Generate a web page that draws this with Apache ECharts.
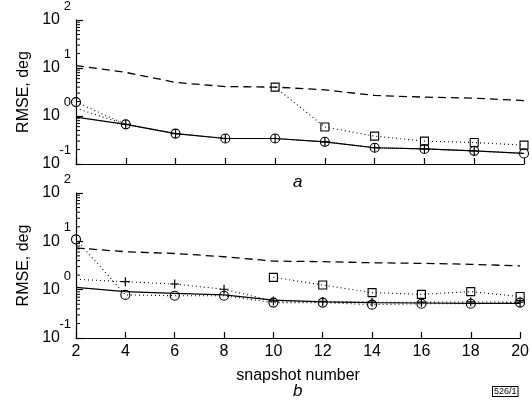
<!DOCTYPE html>
<html>
<head>
<meta charset="utf-8">
<script src="https://cdn.jsdelivr.net/npm/echarts@6/dist/echarts.min.js"></script>
<style>html,body{margin:0;padding:0;background:#fff}#c{width:532px;height:402px}</style>
</head>
<body>
<div id="c"></div>
<script>
var xs = [2, 4, 6, 8, 10, 12, 14, 16, 18, 20];
var yTicks = [0.1, 1, 10, 100];

// panel a
var aDashed = [11.2, 8.1, 5.0, 4.1, 4.0, 3.5, 2.68, 2.47, 2.35, 2.1];
var aSolid  = [0.95, 0.67, 0.43, 0.34, 0.34, 0.29, 0.218, 0.206, 0.188, 0.166];
var aCircle = [1.95, 0.67, 0.43, 0.34, 0.34, 0.29, 0.218, 0.206, 0.188, 0.166];
var aPlus   = [1.45, 0.67, 0.43, 0.34, 0.34, 0.29, 0.218, 0.206, 0.188, null];
var aSquare = [null, null, null, null, 4.0, 0.59, 0.38, 0.30, 0.28, 0.247];

// panel b
var bDashed = [7.3, 6.1, 5.6, 4.8, 3.9, 3.8, 3.6, 3.5, 3.35, 3.1];
var bSolid  = [1.12, 0.91, 0.84, 0.78, 0.61, 0.56, 0.54, 0.53, 0.52, 0.52];
var bCircle = [11, 0.78, 0.75, 0.75, 0.54, 0.54, 0.49, 0.51, 0.51, 0.54];
var bPlus   = [1.64, 1.46, 1.31, 1.02, 0.58, 0.57, 0.55, 0.55, 0.56, 0.55];
var bSquare = [null, null, null, null, 1.8, 1.25, 0.87, 0.80, 0.91, 0.72];

var FONT = 'Liberation Sans, Arial, Helvetica, sans-serif';
var plusPath = 'path://M5,0L5,10M0,5L10,5';

// minor tick values of the log axis (2..9 in each decade)
var minorVals = [];
for (var d = 0; d < yTicks.length - 1; d++) {
  for (var m = 2; m <= 9; m++) minorVals.push(+(yTicks[d] * m).toPrecision(3));
}

function pairs(vals, hideFirst) {
  var out = [];
  for (var i = 0; i < xs.length; i++) {
    if (vals[i] == null) continue;
    if (hideFirst && i === 0) out.push({ value: [xs[i], vals[i]], symbol: 'none' });
    else out.push([xs[i], vals[i]]);
  }
  return out;
}

function mk(vals, idx, kind) {
  var s = {
    type: 'line', xAxisIndex: idx, yAxisIndex: idx, data: pairs(vals, kind === 'plus'),
    animation: false, silent: true, smooth: false, z: 3,
    lineStyle: { color: '#000', width: 1.2, type: 'solid' },
    symbol: 'none', showSymbol: false,
    itemStyle: { color: 'rgba(0,0,0,0)', borderColor: '#000', borderWidth: 1.1 }
  };
  if (kind === 'dashed') { s.lineStyle.type = [8, 5]; s.lineStyle.width = 1.3; }
  if (kind === 'circle' || kind === 'plus' || kind === 'square') {
    s.lineStyle.type = [1, 3]; s.lineStyle.width = 1.1;
    s.showSymbol = true;
  }
  if (kind === 'circle') { s.symbol = 'circle'; s.symbolSize = 9; }
  if (kind === 'square') { s.symbol = 'rect'; s.symbolSize = 8; }
  if (kind === 'plus') { s.symbol = plusPath; s.symbolSize = 9; s.itemStyle.borderWidth = 1.2; }
  return s;
}

function minorSeries(idx) {
  return {
    type: 'custom', xAxisIndex: idx, yAxisIndex: idx, silent: true, animation: false, z: 4,
    clip: false,
    encode: { x: 0, y: 1 },
    data: minorVals.map(function (v) { return [xs[0], v]; }),
    renderItem: function (params, api) {
      var p = api.coord([api.value(0), api.value(1)]);
      return { type: 'line', shape: { x1: p[0], y1: p[1], x2: p[0] + 4, y2: p[1] },
               style: { stroke: '#000', lineWidth: 1 } };
    }
  };
}

function yAxisMain(idx) {
  return {
    type: 'log', logBase: 10, gridIndex: idx, min: yTicks[0], max: yTicks[yTicks.length - 1],
    name: 'RMSE, deg', nameLocation: 'middle', nameGap: 37, nameRotate: 90,
    nameTextStyle: { fontFamily: FONT, fontSize: 16, color: '#000' },
    axisLine: { show: true, lineStyle: { color: '#000', width: 1.2 } },
    axisTick: { show: true, inside: true, length: 7, lineStyle: { color: '#000', width: 1.2 } },
    splitLine: { show: false },
    axisLabel: {
      margin: 16, fontFamily: FONT, fontSize: 16, color: '#000',
      formatter: function () { return '10'; }
    }
  };
}

function yAxisExp(idx) {
  return {
    type: 'log', logBase: 10, gridIndex: idx, min: yTicks[0], max: yTicks[yTicks.length - 1],
    position: 'left', offset: 0,
    axisLine: { show: false }, axisTick: { show: false }, splitLine: { show: false },
    axisLabel: {
      margin: 5, fontFamily: FONT, fontSize: 13, color: '#000',
      verticalAlign: 'bottom', padding: [0, 0, 7, 0],
      formatter: function (v) { return String(Math.round(Math.log10(v))); }
    }
  };
}

function xAxis(idx, showLabels) {
  var ax = {
    type: 'value', gridIndex: idx, min: 2, max: 20, interval: 2,
    axisLine: { show: true, onZero: false, lineStyle: { color: '#000', width: 1.2 } },
    axisTick: { show: true, inside: true, length: 6, lineStyle: { color: '#000', width: 1.2 } },
    splitLine: { show: false },
    axisLabel: { show: showLabels, margin: 6, fontFamily: FONT, fontSize: 16, color: '#000' }
  };
  if (showLabels) {
    ax.name = 'snapshot number';
    ax.nameLocation = 'middle';
    ax.nameGap = 30;
    ax.nameTextStyle = { fontFamily: FONT, fontSize: 16, color: '#000' };
  }
  return ax;
}

var chart = echarts.init(document.getElementById('c'), null, { renderer: 'canvas' });
chart.setOption({
  backgroundColor: '#fff',
  animation: false,
  grid: [
    { left: 76, right: 8, top: 19, height: 145 },
    { left: 76, right: 8, top: 193, height: 145 }
  ],
  xAxis: [xAxis(0, false), xAxis(1, true)],
  yAxis: [yAxisMain(0), yAxisMain(1), yAxisExp(0), yAxisExp(1)],
  series: [
    mk(aDashed, 0, 'dashed'), mk(aSolid, 0, 'solid'), mk(aCircle, 0, 'circle'),
    mk(aPlus, 0, 'plus'), mk(aSquare, 0, 'square'),
    mk(bDashed, 1, 'dashed'), mk(bSolid, 1, 'solid'), mk(bCircle, 1, 'circle'),
    mk(bPlus, 1, 'plus'), mk(bSquare, 1, 'square'),
    minorSeries(0), minorSeries(1)
  ],
  graphic: [
    { type: 'text', left: 293, top: 174, style: { text: 'a', font: 'italic 17px ' + FONT, fill: '#000' } },
    { type: 'text', left: 293, top: 383, style: { text: 'b', font: 'italic 17px ' + FONT, fill: '#000' } },
    { type: 'text', left: 492, top: 386, style: { text: '526/1', font: '9px ' + FONT, fill: '#000', backgroundColor: '#fff', borderColor: '#000', borderWidth: 1, padding: [0, 1, 0, 1] } }
  ]
});
</script>
</body>
</html>
